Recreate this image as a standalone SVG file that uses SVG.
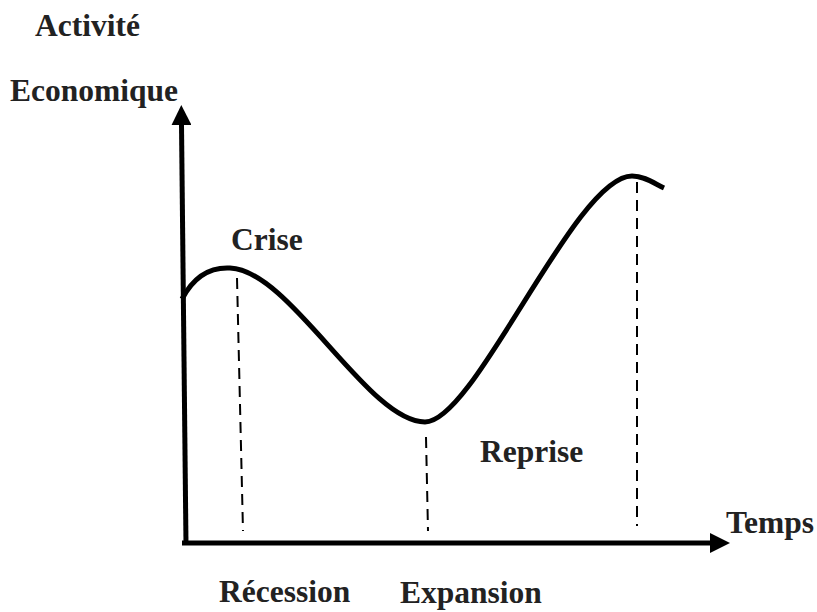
<svg xmlns="http://www.w3.org/2000/svg" width="817" height="612" viewBox="0 0 817 612">
  <style>
    .lbl { font-family: "Liberation Serif", "Times New Roman", serif; font-weight: bold; font-size: 31.5px; fill: #222; }
    .axis { stroke: #000; stroke-width: 5; fill: none; }
    .curve { stroke: #000; stroke-width: 5; fill: none; }
    .dash { stroke: #000; stroke-width: 2; stroke-dasharray: 11 7; fill: none; }
  </style>
  <defs>
    <marker id="arrow" markerUnits="userSpaceOnUse" markerWidth="20" markerHeight="20" refX="0" refY="10" orient="auto">
      <path d="M0,0 L20,10 L0,20 z" fill="#000"/>
    </marker>
  </defs>
  <rect width="817" height="612" fill="#fff"/>

  <g id="connectors">
    <line id="y-axis" class="axis" x1="186" y1="545" x2="181.5" y2="125" marker-end="url(#arrow)"/>
    <line id="x-axis" class="axis" x1="182" y1="543" x2="710" y2="543" stroke-width="6" marker-end="url(#arrow)"/>
    <path id="cycle-curve" class="curve" d="M182,299 C194,276 211,267 230,268 C290,270 368,422 425,422 C475,422 575,176 632,176 C645,176 655,184 664,188"/>
    <line id="dash-crise" class="dash" x1="237" y1="278" x2="243" y2="531"/>
    <line id="dash-creux" class="dash" x1="426" y1="437" x2="428" y2="531"/>
    <line id="dash-pic" class="dash" x1="637" y1="182" x2="637" y2="526"/>
  </g>

  <g id="label-activite"><text class="lbl" x="35" y="36">Activité</text></g>
  <g id="label-economique"><text class="lbl" x="10" y="101">Economique</text></g>
  <g id="label-crise"><text class="lbl" x="231" y="250">Crise</text></g>
  <g id="label-reprise"><text class="lbl" x="480" y="462">Reprise</text></g>
  <g id="label-temps"><text class="lbl" x="726" y="533">Temps</text></g>
  <g id="label-recession"><text class="lbl" x="219" y="602">Récession</text></g>
  <g id="label-expansion"><text class="lbl" x="400" y="603">Expansion</text></g>
</svg>
